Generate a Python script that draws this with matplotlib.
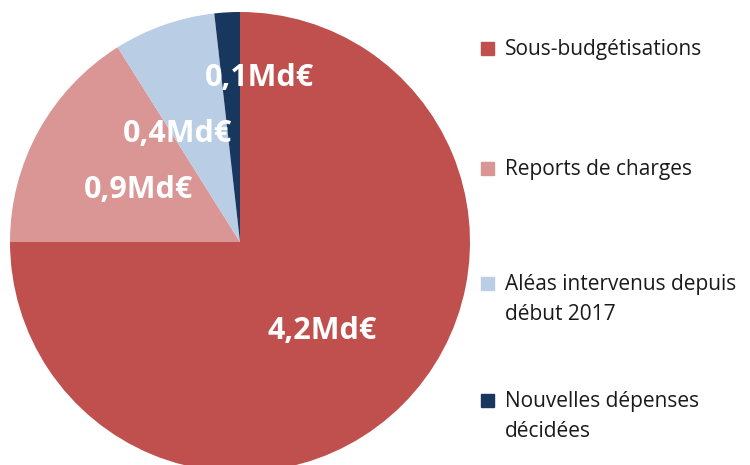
import numpy as np
import matplotlib.pyplot as plt
from matplotlib.patches import Rectangle

# data
categories = ['Sous-budgétisations', 'Reports de charges',
              'Aléas intervenus depuis\ndébut 2017', 'Nouvelles dépenses\ndécidées']
values = [4.2, 0.9, 0.4, 0.1]
value_labels = ['4,2Md€', '0,9Md€', '0,4Md€', '0,1Md€']
colors = ['#C0504D', '#D99694', '#B9CDE5', '#17375E']

W, H = 750, 465
fig = plt.figure(figsize=(W / 100, H / 100), dpi=100)

# pie centre (240, 242) px from top-left, radius 230 px
cx, cy, rad = 240, 242, 230
ax = fig.add_axes([(cx - rad) / W, (H - cy - rad) / H, 2 * rad / W, 2 * rad / H])
wedges, _ = ax.pie(values, colors=colors, startangle=90, counterclock=False,
                   radius=1.0, wedgeprops=dict(linewidth=0))
ax.set_xlim(-1, 1)
ax.set_ylim(-1, 1)
ax.set_aspect('equal')
ax.axis('off')

# label placement: radius and angle shift from the wedge mid angle
lbl_r = [0.52, 0.50, 0.55, 0.73]
lbl_shift = [-1.7, 0.6, 10.3, -10.0]
for w, txt, r, sh in zip(wedges, value_labels, lbl_r, lbl_shift):
    ang = np.deg2rad((w.theta1 + w.theta2) / 2 + sh)
    ax.text(r * np.cos(ang), r * np.sin(ang) - 0.01, txt, color='white',
            fontsize=22, fontweight='bold', family='Open Sans',
            ha='center', va='center')

# legend drawn by hand so the square sits on the first line
leg_y = [55, 175, 290, 407]   # baseline of first line, px from top
line_gap = 30
for lab, col, y in zip(categories, colors, leg_y):
    fig.patches.append(Rectangle((481 / W, (H - y) / H), 13 / W, 13 / H,
                                 transform=fig.transFigure, color=col))
    for i, line in enumerate(lab.split('\n')):
        fig.text(505 / W, (H - y - i * line_gap) / H, line, fontsize=15,
                 family='Open Sans', color='#1a1a1a', ha='left', va='baseline')

fig.savefig('out.png', dpi=100)
